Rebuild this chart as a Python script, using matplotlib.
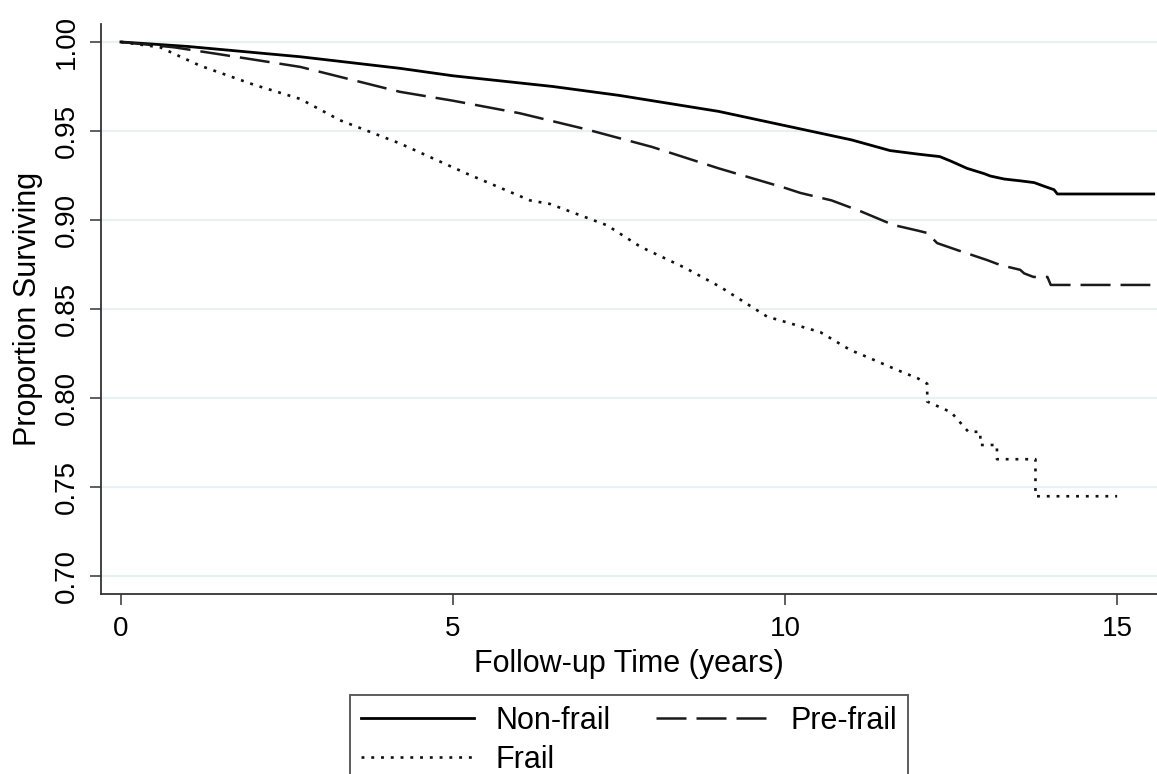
"""Kaplan-Meier survival curves by frailty status"""
import matplotlib
matplotlib.use('Agg')
import matplotlib.pyplot as plt

plt.rcParams['font.family'] = ['Liberation Sans', 'DejaVu Sans']

# follow-up time (years) and proportion surviving
t_nonfrail = [0, 1.0, 2.7, 4.2, 5.0, 6.5, 7.5, 9.0, 10.0, 11.0, 11.58, 12.0, 12.33,
              12.5, 12.74, 13.0, 13.09, 13.3, 13.54, 13.75, 13.92, 14.05, 14.1, 15.55]
s_nonfrail = [1.0, 0.9975, 0.9917, 0.9852, 0.981, 0.975, 0.970, 0.961, 0.953, 0.945,
              0.939, 0.937, 0.9356, 0.933, 0.929, 0.926, 0.9247, 0.923, 0.922, 0.921,
              0.9187, 0.917, 0.9146, 0.9146]

t_prefrail = [0, 0.8, 1.5, 2.7, 4.2, 5.0, 6.0, 7.0, 8.0, 9.0, 10.0, 10.23, 10.7, 11.13,
              11.63, 12.0, 12.14, 12.29, 12.6, 13.04, 13.24, 13.54, 13.6, 13.74, 13.95,
              14.0, 15.5]
s_prefrail = [1.0, 0.997, 0.993, 0.986, 0.972, 0.967, 0.960, 0.951, 0.941, 0.929,
              0.918, 0.9152, 0.911, 0.905, 0.8972, 0.894, 0.8927, 0.887, 0.883,
              0.8775, 0.8747, 0.872, 0.870, 0.868, 0.868, 0.8635, 0.8635]

t_frail = [0, 0.59, 1.19, 2.0, 2.7, 3.3, 4.2, 5.21, 6.16, 6.46, 7.32, 7.82, 8.5, 9.02,
           9.73, 10.53, 10.98, 11.3, 11.69, 12.0, 12.14, 12.14, 12.5, 12.76, 12.94,
           12.94, 13.19, 13.19, 13.77, 13.77, 15.0]
s_frail = [1.0, 0.997, 0.9867, 0.976, 0.968, 0.956, 0.943, 0.926, 0.911, 0.909, 0.897,
           0.885, 0.873, 0.8625, 0.8457, 0.837, 0.827, 0.822, 0.8157, 0.811, 0.808,
           0.798, 0.792, 0.781, 0.781, 0.7736, 0.7736, 0.7656, 0.7656, 0.7448, 0.7448]

yticks = [0.70, 0.75, 0.80, 0.85, 0.90, 0.95, 1.00]
xticks = [0, 5, 10, 15]

fig = plt.figure(figsize=(11.57, 7.74), dpi=100)
ax = fig.add_axes([0.0873, 0.2326, 0.9127, 0.7364])

for y in yticks:
    ax.axhline(y, color='#e8f0f2', lw=1.6, zorder=0)

l1, = ax.plot(t_nonfrail, s_nonfrail, '-', color='black', lw=2.0, label='Non-frail')
l2, = ax.plot(t_prefrail, s_prefrail, color='#1a1a1a', lw=1.8,
              linestyle=(0, (12, 4)), label='Pre-frail')
l3, = ax.plot(t_frail, s_frail, color='#111111', lw=1.9,
              linestyle=(0, (1.1, 2.6)), label='Frail')

ax.set_xlim(-0.3, 15.6)
ax.set_ylim(0.6899, 1.0101)
ax.set_xticks(xticks)
ax.set_yticks(yticks)
ax.set_yticklabels(['%.2f' % v for v in yticks], rotation=90, va='center')
ax.tick_params(axis='both', labelsize=20, length=8, width=1.1, color='#333333')
ax.tick_params(axis='y', pad=7)
ax.tick_params(axis='x', pad=8)

for side in ['top', 'right']:
    ax.spines[side].set_visible(False)
for side in ['left', 'bottom']:
    ax.spines[side].set_color('#333333')
    ax.spines[side].set_linewidth(1.3)

ax.set_xlabel('Follow-up Time (years)', fontsize=22, labelpad=5)
ax.set_ylabel('Proportion Surviving', fontsize=22, labelpad=8)

leg = fig.legend([l1, l3, l2], ['Non-frail', 'Frail', 'Pre-frail'], ncol=2,
                 loc='upper center', bbox_to_anchor=(0.5437, 0.122),
                 fontsize=22, frameon=True, fancybox=False,
                 handlelength=3.7, handletextpad=0.7, columnspacing=1.5,
                 labelspacing=0.3, borderpad=0.35)
leg.get_frame().set_edgecolor('#333333')
leg.get_frame().set_linewidth(1.4)

fig.savefig('out.png', dpi=100)
